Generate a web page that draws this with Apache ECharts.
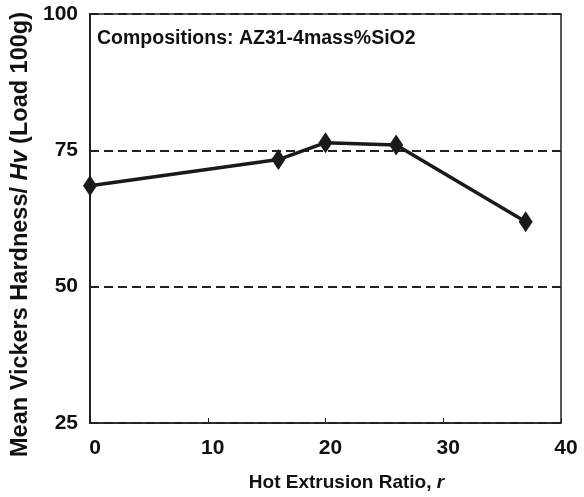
<!DOCTYPE html>
<html>
<head>
<meta charset="utf-8">
<script src="https://cdn.jsdelivr.net/npm/echarts@6/dist/echarts.min.js"></script>
<style>
html,body{margin:0;padding:0;background:#fff;}
#chart{width:584px;height:497px;}
</style>
</head>
<body>
<div id="chart"></div>
<script>
var ratios = [0, 16, 20, 26, 37];
var hardness = [68.5, 73.3, 76.4, 76.0, 61.9];
var annotation = 'Compositions: AZ31-4mass%SiO2';
var xName = 'Hot Extrusion Ratio, ';
var yName = 'Mean Vickers Hardness/ ';

var font = '"Liberation Sans", Arial, sans-serif';
var chart = echarts.init(document.getElementById('chart'), null, {renderer: 'canvas'});
var data = ratios.map(function (r, i) { return [r, hardness[i]]; });

chart.setOption({
  animation: false,
  backgroundColor: '#fff',
  grid: {left: 90, right: 23, top: 14, bottom: 73, show: true, borderColor: '#222', borderWidth: 1.5, backgroundColor: 'transparent'},
  graphic: [{
    type: 'text', left: 97, top: 29,
    style: {text: annotation, font: 'bold 19.5px ' + font, fill: '#111'}
  }],
  xAxis: {
    type: 'value', min: 0, max: 40, interval: 10,
    name: '{n|' + xName + '}{i|r}',
    nameLocation: 'middle', nameGap: 50,
    nameTextStyle: {padding: [0, 0, 0, 42], rich: {
      n: {fontFamily: font, fontWeight: 'bold', fontSize: 19, color: '#111'},
      i: {fontFamily: font, fontWeight: 'bold', fontStyle: 'italic', fontSize: 19, color: '#111'}
    }},
    axisLine: {show: true, lineStyle: {color: '#222', width: 1.5}},
    axisTick: {show: true, inside: true, length: 5, lineStyle: {color: '#222'}},
    axisLabel: {fontFamily: font, fontWeight: 'bold', fontSize: 21, color: '#111', margin: 15, padding: [0, 0, 0, 10]},
    splitLine: {show: false}
  },
  yAxis: {
    type: 'value', min: 25, max: 100, interval: 25,
    name: '{n|' + yName + '}{i|Hv}{n| (Load 100g)}',
    nameLocation: 'middle', nameGap: 48,
    nameTextStyle: {padding: [0, 32, 0, 0], rich: {
      n: {fontFamily: font, fontWeight: 'bold', fontSize: 23.5, color: '#111'},
      i: {fontFamily: font, fontWeight: 'bold', fontStyle: 'italic', fontSize: 23.5, color: '#111'}
    }},
    axisLine: {show: true, lineStyle: {color: '#222', width: 2}},
    axisTick: {show: false},
    axisLabel: {fontFamily: font, fontWeight: 'bold', fontSize: 21, color: '#111', margin: 12},
    splitLine: {show: true, lineStyle: {color: '#222', type: [9, 5], width: 1.8}}
  },
  series: [{
    type: 'line',
    data: data,
    symbol: 'diamond',
    symbolSize: [14, 21],
    itemStyle: {color: '#1a1a1a'},
    lineStyle: {color: '#1a1a1a', width: 3.5},
    z: 5
  }]
});
</script>
</body>
</html>
